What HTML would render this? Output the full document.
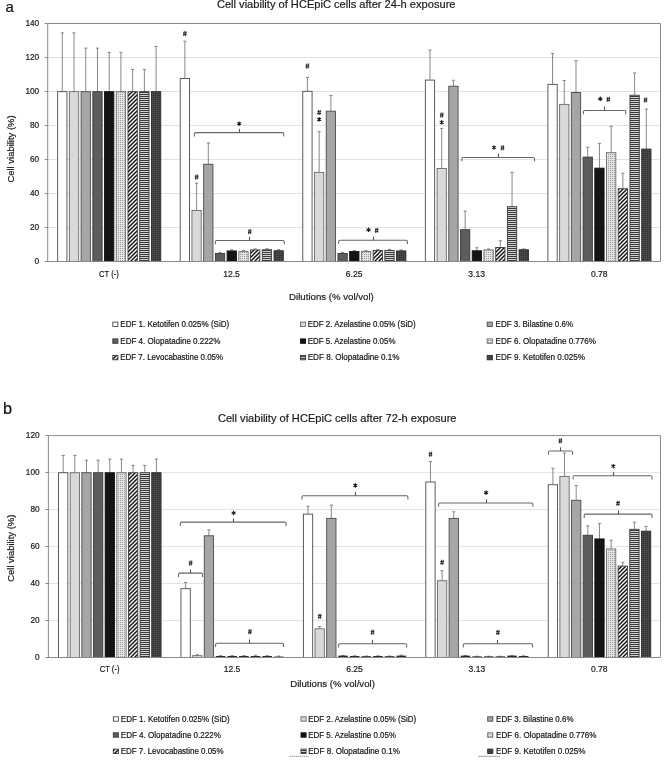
<!DOCTYPE html>
<html><head><meta charset="utf-8"><title>Cell viability of HCEpiC cells</title>
<style>
html,body{margin:0;padding:0;background:#fff;}
body{width:669px;height:760px;overflow:hidden;}
svg{display:block;font-family:"Liberation Sans", sans-serif;will-change:transform;}
text{stroke:#1a1a1a;stroke-width:0.2px;paint-order:stroke;}
</style></head><body>
<svg width="669" height="760" viewBox="0 0 669 760">
<defs>
<pattern id="pdots" width="2" height="2" patternUnits="userSpaceOnUse"><rect width="2" height="2" fill="#e4e4e4"/><rect x="0" y="0" width="1" height="1" fill="#9a9a9a"/></pattern>
<pattern id="pdiag" width="4" height="4" patternUnits="userSpaceOnUse"><rect width="4" height="4" fill="#ffffff"/><path d="M-1,5 L5,-1 M-1,1 L1,-1 M3,5 L5,3" stroke="#151515" stroke-width="1.5"/></pattern>
<pattern id="phor" width="2" height="2" patternUnits="userSpaceOnUse"><rect width="2" height="2" fill="#e4e4e4"/><rect x="0" y="0" width="2" height="1.1" fill="#3a3a3a"/></pattern>
<pattern id="pdark" width="2" height="2" patternUnits="userSpaceOnUse"><rect width="2" height="2" fill="#3a3a3a"/><rect x="0" y="0" width="1" height="1" fill="#575757"/></pattern>
</defs>
<line x1="47.7" y1="227.5" x2="660.5" y2="227.5" stroke="#dfdfdf" stroke-width="0.9"/>
<line x1="47.7" y1="193.5" x2="660.5" y2="193.5" stroke="#dfdfdf" stroke-width="0.9"/>
<line x1="47.7" y1="159.5" x2="660.5" y2="159.5" stroke="#dfdfdf" stroke-width="0.9"/>
<line x1="47.7" y1="125.5" x2="660.5" y2="125.5" stroke="#dfdfdf" stroke-width="0.9"/>
<line x1="47.7" y1="91.5" x2="660.5" y2="91.5" stroke="#dfdfdf" stroke-width="0.9"/>
<line x1="47.7" y1="57.5" x2="660.5" y2="57.5" stroke="#dfdfdf" stroke-width="0.9"/>
<polyline points="47.7,23.5 660.5,23.5 660.5,261.5" fill="none" stroke="#8a8a8a" stroke-width="1"/>
<line x1="62.3" y1="91.5" x2="62.3" y2="32.85" stroke="#7a7a7a" stroke-width="0.9"/>
<line x1="60.7" y1="32.85" x2="63.9" y2="32.85" stroke="#7a7a7a" stroke-width="0.9"/>
<rect x="57.65" y="91.65" width="9.3" height="169.85" fill="#ffffff" stroke="#4a4a4a" stroke-width="0.9"/>
<line x1="74.02" y1="91.5" x2="74.02" y2="32.85" stroke="#7a7a7a" stroke-width="0.9"/>
<line x1="72.42" y1="32.85" x2="75.62" y2="32.85" stroke="#7a7a7a" stroke-width="0.9"/>
<rect x="69.38" y="91.65" width="9.3" height="169.85" fill="#d9d9d9" stroke="#6a6a6a" stroke-width="0.9"/>
<line x1="85.75" y1="91.5" x2="85.75" y2="48.15" stroke="#7a7a7a" stroke-width="0.9"/>
<line x1="84.15" y1="48.15" x2="87.35" y2="48.15" stroke="#7a7a7a" stroke-width="0.9"/>
<rect x="81.1" y="91.65" width="9.3" height="169.85" fill="#a6a6a6" stroke="#4a4a4a" stroke-width="0.9"/>
<line x1="97.47" y1="91.5" x2="97.47" y2="48.15" stroke="#7a7a7a" stroke-width="0.9"/>
<line x1="95.88" y1="48.15" x2="99.07" y2="48.15" stroke="#7a7a7a" stroke-width="0.9"/>
<rect x="92.83" y="91.65" width="9.3" height="169.85" fill="#5d5d5d" stroke="#3a3a3a" stroke-width="0.9"/>
<line x1="109.2" y1="91.5" x2="109.2" y2="52.4" stroke="#7a7a7a" stroke-width="0.9"/>
<line x1="107.6" y1="52.4" x2="110.8" y2="52.4" stroke="#7a7a7a" stroke-width="0.9"/>
<rect x="104.55" y="91.65" width="9.3" height="169.85" fill="#141414" stroke="#111111" stroke-width="0.9"/>
<line x1="120.92" y1="91.5" x2="120.92" y2="52.4" stroke="#7a7a7a" stroke-width="0.9"/>
<line x1="119.33" y1="52.4" x2="122.52" y2="52.4" stroke="#7a7a7a" stroke-width="0.9"/>
<rect x="116.28" y="91.65" width="9.3" height="169.85" fill="url(#pdots)" stroke="#6a6a6a" stroke-width="0.9"/>
<line x1="132.65" y1="91.5" x2="132.65" y2="69.4" stroke="#7a7a7a" stroke-width="0.9"/>
<line x1="131.05" y1="69.4" x2="134.25" y2="69.4" stroke="#7a7a7a" stroke-width="0.9"/>
<rect x="128" y="91.65" width="9.3" height="169.85" fill="url(#pdiag)" stroke="#3a3a3a" stroke-width="0.9"/>
<line x1="144.38" y1="91.5" x2="144.38" y2="69.4" stroke="#7a7a7a" stroke-width="0.9"/>
<line x1="142.78" y1="69.4" x2="145.97" y2="69.4" stroke="#7a7a7a" stroke-width="0.9"/>
<rect x="139.72" y="91.65" width="9.3" height="169.85" fill="url(#phor)" stroke="#3a3a3a" stroke-width="0.9"/>
<line x1="156.1" y1="91.5" x2="156.1" y2="46.45" stroke="#7a7a7a" stroke-width="0.9"/>
<line x1="154.5" y1="46.45" x2="157.7" y2="46.45" stroke="#7a7a7a" stroke-width="0.9"/>
<rect x="151.45" y="91.65" width="9.3" height="169.85" fill="url(#pdark)" stroke="#2a2a2a" stroke-width="0.9"/>
<line x1="184.86" y1="78.41" x2="184.86" y2="41.18" stroke="#7a7a7a" stroke-width="0.9"/>
<line x1="183.26" y1="41.18" x2="186.46" y2="41.18" stroke="#7a7a7a" stroke-width="0.9"/>
<rect x="180.21" y="78.56" width="9.3" height="182.94" fill="#ffffff" stroke="#4a4a4a" stroke-width="0.9"/>
<line x1="196.58" y1="210.33" x2="196.58" y2="183.13" stroke="#7a7a7a" stroke-width="0.9"/>
<line x1="194.98" y1="183.13" x2="198.18" y2="183.13" stroke="#7a7a7a" stroke-width="0.9"/>
<rect x="191.93" y="210.48" width="9.3" height="51.02" fill="#d9d9d9" stroke="#6a6a6a" stroke-width="0.9"/>
<line x1="208.31" y1="164.09" x2="208.31" y2="143.01" stroke="#7a7a7a" stroke-width="0.9"/>
<line x1="206.71" y1="143.01" x2="209.91" y2="143.01" stroke="#7a7a7a" stroke-width="0.9"/>
<rect x="203.66" y="164.24" width="9.3" height="97.26" fill="#a6a6a6" stroke="#4a4a4a" stroke-width="0.9"/>
<line x1="220.03" y1="253.34" x2="220.03" y2="252.32" stroke="#7a7a7a" stroke-width="0.9"/>
<line x1="218.44" y1="252.32" x2="221.63" y2="252.32" stroke="#7a7a7a" stroke-width="0.9"/>
<rect x="215.38" y="253.49" width="9.3" height="8.01" fill="#5d5d5d" stroke="#3a3a3a" stroke-width="0.9"/>
<line x1="231.76" y1="250.79" x2="231.76" y2="249.77" stroke="#7a7a7a" stroke-width="0.9"/>
<line x1="230.16" y1="249.77" x2="233.36" y2="249.77" stroke="#7a7a7a" stroke-width="0.9"/>
<rect x="227.11" y="250.94" width="9.3" height="10.56" fill="#141414" stroke="#111111" stroke-width="0.9"/>
<line x1="243.48" y1="251.47" x2="243.48" y2="250.45" stroke="#7a7a7a" stroke-width="0.9"/>
<line x1="241.88" y1="250.45" x2="245.08" y2="250.45" stroke="#7a7a7a" stroke-width="0.9"/>
<rect x="238.83" y="251.62" width="9.3" height="9.88" fill="url(#pdots)" stroke="#6a6a6a" stroke-width="0.9"/>
<line x1="255.21" y1="249.77" x2="255.21" y2="248.92" stroke="#7a7a7a" stroke-width="0.9"/>
<line x1="253.61" y1="248.92" x2="256.81" y2="248.92" stroke="#7a7a7a" stroke-width="0.9"/>
<rect x="250.56" y="249.92" width="9.3" height="11.58" fill="url(#pdiag)" stroke="#3a3a3a" stroke-width="0.9"/>
<line x1="266.94" y1="249.6" x2="266.94" y2="248.75" stroke="#7a7a7a" stroke-width="0.9"/>
<line x1="265.33" y1="248.75" x2="268.54" y2="248.75" stroke="#7a7a7a" stroke-width="0.9"/>
<rect x="262.28" y="249.75" width="9.3" height="11.75" fill="url(#phor)" stroke="#3a3a3a" stroke-width="0.9"/>
<line x1="278.66" y1="250.62" x2="278.66" y2="249.6" stroke="#7a7a7a" stroke-width="0.9"/>
<line x1="277.06" y1="249.6" x2="280.26" y2="249.6" stroke="#7a7a7a" stroke-width="0.9"/>
<rect x="274.01" y="250.77" width="9.3" height="10.73" fill="url(#pdark)" stroke="#2a2a2a" stroke-width="0.9"/>
<line x1="307.42" y1="91.16" x2="307.42" y2="77.39" stroke="#7a7a7a" stroke-width="0.9"/>
<line x1="305.82" y1="77.39" x2="309.02" y2="77.39" stroke="#7a7a7a" stroke-width="0.9"/>
<rect x="302.77" y="91.31" width="9.3" height="170.19" fill="#ffffff" stroke="#4a4a4a" stroke-width="0.9"/>
<line x1="319.15" y1="172.25" x2="319.15" y2="131.62" stroke="#7a7a7a" stroke-width="0.9"/>
<line x1="317.55" y1="131.62" x2="320.75" y2="131.62" stroke="#7a7a7a" stroke-width="0.9"/>
<rect x="314.5" y="172.4" width="9.3" height="89.1" fill="#d9d9d9" stroke="#6a6a6a" stroke-width="0.9"/>
<line x1="330.87" y1="111.05" x2="330.87" y2="95.41" stroke="#7a7a7a" stroke-width="0.9"/>
<line x1="329.27" y1="95.41" x2="332.47" y2="95.41" stroke="#7a7a7a" stroke-width="0.9"/>
<rect x="326.22" y="111.2" width="9.3" height="150.3" fill="#a6a6a6" stroke="#4a4a4a" stroke-width="0.9"/>
<line x1="342.6" y1="253.34" x2="342.6" y2="252.49" stroke="#7a7a7a" stroke-width="0.9"/>
<line x1="341" y1="252.49" x2="344.2" y2="252.49" stroke="#7a7a7a" stroke-width="0.9"/>
<rect x="337.94" y="253.49" width="9.3" height="8.01" fill="#5d5d5d" stroke="#3a3a3a" stroke-width="0.9"/>
<line x1="354.32" y1="251.3" x2="354.32" y2="250.45" stroke="#7a7a7a" stroke-width="0.9"/>
<line x1="352.72" y1="250.45" x2="355.92" y2="250.45" stroke="#7a7a7a" stroke-width="0.9"/>
<rect x="349.67" y="251.45" width="9.3" height="10.05" fill="#141414" stroke="#111111" stroke-width="0.9"/>
<line x1="366.05" y1="251.3" x2="366.05" y2="250.45" stroke="#7a7a7a" stroke-width="0.9"/>
<line x1="364.44" y1="250.45" x2="367.65" y2="250.45" stroke="#7a7a7a" stroke-width="0.9"/>
<rect x="361.39" y="251.45" width="9.3" height="10.05" fill="url(#pdots)" stroke="#6a6a6a" stroke-width="0.9"/>
<line x1="377.77" y1="250.28" x2="377.77" y2="249.43" stroke="#7a7a7a" stroke-width="0.9"/>
<line x1="376.17" y1="249.43" x2="379.37" y2="249.43" stroke="#7a7a7a" stroke-width="0.9"/>
<rect x="373.12" y="250.43" width="9.3" height="11.07" fill="url(#pdiag)" stroke="#3a3a3a" stroke-width="0.9"/>
<line x1="389.5" y1="250.28" x2="389.5" y2="249.43" stroke="#7a7a7a" stroke-width="0.9"/>
<line x1="387.89" y1="249.43" x2="391.1" y2="249.43" stroke="#7a7a7a" stroke-width="0.9"/>
<rect x="384.84" y="250.43" width="9.3" height="11.07" fill="url(#phor)" stroke="#3a3a3a" stroke-width="0.9"/>
<line x1="401.22" y1="250.79" x2="401.22" y2="249.94" stroke="#7a7a7a" stroke-width="0.9"/>
<line x1="399.62" y1="249.94" x2="402.82" y2="249.94" stroke="#7a7a7a" stroke-width="0.9"/>
<rect x="396.57" y="250.94" width="9.3" height="10.56" fill="url(#pdark)" stroke="#2a2a2a" stroke-width="0.9"/>
<line x1="429.98" y1="79.94" x2="429.98" y2="50.02" stroke="#7a7a7a" stroke-width="0.9"/>
<line x1="428.38" y1="50.02" x2="431.58" y2="50.02" stroke="#7a7a7a" stroke-width="0.9"/>
<rect x="425.33" y="80.09" width="9.3" height="181.41" fill="#ffffff" stroke="#4a4a4a" stroke-width="0.9"/>
<line x1="441.71" y1="168.34" x2="441.71" y2="128.39" stroke="#7a7a7a" stroke-width="0.9"/>
<line x1="440.11" y1="128.39" x2="443.31" y2="128.39" stroke="#7a7a7a" stroke-width="0.9"/>
<rect x="437.06" y="168.49" width="9.3" height="93.01" fill="#d9d9d9" stroke="#6a6a6a" stroke-width="0.9"/>
<line x1="453.43" y1="86.06" x2="453.43" y2="80.28" stroke="#7a7a7a" stroke-width="0.9"/>
<line x1="451.83" y1="80.28" x2="455.03" y2="80.28" stroke="#7a7a7a" stroke-width="0.9"/>
<rect x="448.78" y="86.21" width="9.3" height="175.29" fill="#a6a6a6" stroke="#4a4a4a" stroke-width="0.9"/>
<line x1="465.16" y1="229.54" x2="465.16" y2="211.01" stroke="#7a7a7a" stroke-width="0.9"/>
<line x1="463.56" y1="211.01" x2="466.76" y2="211.01" stroke="#7a7a7a" stroke-width="0.9"/>
<rect x="460.5" y="229.69" width="9.3" height="31.81" fill="#5d5d5d" stroke="#3a3a3a" stroke-width="0.9"/>
<line x1="476.88" y1="250.62" x2="476.88" y2="247.73" stroke="#7a7a7a" stroke-width="0.9"/>
<line x1="475.28" y1="247.73" x2="478.48" y2="247.73" stroke="#7a7a7a" stroke-width="0.9"/>
<rect x="472.23" y="250.77" width="9.3" height="10.73" fill="#141414" stroke="#111111" stroke-width="0.9"/>
<line x1="488.61" y1="249.77" x2="488.61" y2="248.92" stroke="#7a7a7a" stroke-width="0.9"/>
<line x1="487" y1="248.92" x2="490.21" y2="248.92" stroke="#7a7a7a" stroke-width="0.9"/>
<rect x="483.95" y="249.92" width="9.3" height="11.58" fill="url(#pdots)" stroke="#6a6a6a" stroke-width="0.9"/>
<line x1="500.33" y1="247.39" x2="500.33" y2="240.76" stroke="#7a7a7a" stroke-width="0.9"/>
<line x1="498.73" y1="240.76" x2="501.93" y2="240.76" stroke="#7a7a7a" stroke-width="0.9"/>
<rect x="495.68" y="247.54" width="9.3" height="13.96" fill="url(#pdiag)" stroke="#3a3a3a" stroke-width="0.9"/>
<line x1="512.05" y1="206.59" x2="512.05" y2="172.25" stroke="#7a7a7a" stroke-width="0.9"/>
<line x1="510.45" y1="172.25" x2="513.65" y2="172.25" stroke="#7a7a7a" stroke-width="0.9"/>
<rect x="507.4" y="206.74" width="9.3" height="54.76" fill="url(#phor)" stroke="#3a3a3a" stroke-width="0.9"/>
<line x1="523.78" y1="249.6" x2="523.78" y2="248.92" stroke="#7a7a7a" stroke-width="0.9"/>
<line x1="522.18" y1="248.92" x2="525.38" y2="248.92" stroke="#7a7a7a" stroke-width="0.9"/>
<rect x="519.13" y="249.75" width="9.3" height="11.75" fill="url(#pdark)" stroke="#2a2a2a" stroke-width="0.9"/>
<line x1="552.54" y1="84.19" x2="552.54" y2="53.42" stroke="#7a7a7a" stroke-width="0.9"/>
<line x1="550.94" y1="53.42" x2="554.14" y2="53.42" stroke="#7a7a7a" stroke-width="0.9"/>
<rect x="547.89" y="84.34" width="9.3" height="177.16" fill="#ffffff" stroke="#4a4a4a" stroke-width="0.9"/>
<line x1="564.27" y1="104.25" x2="564.27" y2="80.45" stroke="#7a7a7a" stroke-width="0.9"/>
<line x1="562.67" y1="80.45" x2="565.87" y2="80.45" stroke="#7a7a7a" stroke-width="0.9"/>
<rect x="559.62" y="104.4" width="9.3" height="157.1" fill="#d9d9d9" stroke="#6a6a6a" stroke-width="0.9"/>
<line x1="575.99" y1="92.35" x2="575.99" y2="60.56" stroke="#7a7a7a" stroke-width="0.9"/>
<line x1="574.39" y1="60.56" x2="577.59" y2="60.56" stroke="#7a7a7a" stroke-width="0.9"/>
<rect x="571.34" y="92.5" width="9.3" height="169" fill="#a6a6a6" stroke="#4a4a4a" stroke-width="0.9"/>
<line x1="587.72" y1="156.95" x2="587.72" y2="147.26" stroke="#7a7a7a" stroke-width="0.9"/>
<line x1="586.12" y1="147.26" x2="589.32" y2="147.26" stroke="#7a7a7a" stroke-width="0.9"/>
<rect x="583.07" y="157.1" width="9.3" height="104.4" fill="#5d5d5d" stroke="#3a3a3a" stroke-width="0.9"/>
<line x1="599.44" y1="168" x2="599.44" y2="143.35" stroke="#7a7a7a" stroke-width="0.9"/>
<line x1="597.84" y1="143.35" x2="601.04" y2="143.35" stroke="#7a7a7a" stroke-width="0.9"/>
<rect x="594.79" y="168.15" width="9.3" height="93.35" fill="#141414" stroke="#111111" stroke-width="0.9"/>
<line x1="611.17" y1="152.53" x2="611.17" y2="126.35" stroke="#7a7a7a" stroke-width="0.9"/>
<line x1="609.57" y1="126.35" x2="612.77" y2="126.35" stroke="#7a7a7a" stroke-width="0.9"/>
<rect x="606.52" y="152.68" width="9.3" height="108.82" fill="url(#pdots)" stroke="#6a6a6a" stroke-width="0.9"/>
<line x1="622.89" y1="188.57" x2="622.89" y2="173.27" stroke="#7a7a7a" stroke-width="0.9"/>
<line x1="621.29" y1="173.27" x2="624.49" y2="173.27" stroke="#7a7a7a" stroke-width="0.9"/>
<rect x="618.24" y="188.72" width="9.3" height="72.78" fill="url(#pdiag)" stroke="#3a3a3a" stroke-width="0.9"/>
<line x1="634.62" y1="95.07" x2="634.62" y2="72.97" stroke="#7a7a7a" stroke-width="0.9"/>
<line x1="633.02" y1="72.97" x2="636.22" y2="72.97" stroke="#7a7a7a" stroke-width="0.9"/>
<rect x="629.97" y="95.22" width="9.3" height="166.28" fill="url(#phor)" stroke="#3a3a3a" stroke-width="0.9"/>
<line x1="646.34" y1="148.96" x2="646.34" y2="109.18" stroke="#7a7a7a" stroke-width="0.9"/>
<line x1="644.74" y1="109.18" x2="647.94" y2="109.18" stroke="#7a7a7a" stroke-width="0.9"/>
<rect x="641.69" y="149.11" width="9.3" height="112.39" fill="url(#pdark)" stroke="#2a2a2a" stroke-width="0.9"/>
<line x1="47.7" y1="23.5" x2="47.7" y2="261.5" stroke="#8a8a8a" stroke-width="1"/>
<line x1="47.2" y1="261.5" x2="660.5" y2="261.5" stroke="#8a8a8a" stroke-width="1"/>
<line x1="44.7" y1="261.5" x2="47.7" y2="261.5" stroke="#8a8a8a" stroke-width="1"/>
<text x="39.2" y="263.9" text-anchor="end" font-size="8.25" fill="#1a1a1a">0</text>
<line x1="44.7" y1="227.5" x2="47.7" y2="227.5" stroke="#8a8a8a" stroke-width="1"/>
<text x="39.2" y="229.9" text-anchor="end" font-size="8.25" fill="#1a1a1a">20</text>
<line x1="44.7" y1="193.5" x2="47.7" y2="193.5" stroke="#8a8a8a" stroke-width="1"/>
<text x="39.2" y="195.9" text-anchor="end" font-size="8.25" fill="#1a1a1a">40</text>
<line x1="44.7" y1="159.5" x2="47.7" y2="159.5" stroke="#8a8a8a" stroke-width="1"/>
<text x="39.2" y="161.9" text-anchor="end" font-size="8.25" fill="#1a1a1a">60</text>
<line x1="44.7" y1="125.5" x2="47.7" y2="125.5" stroke="#8a8a8a" stroke-width="1"/>
<text x="39.2" y="127.9" text-anchor="end" font-size="8.25" fill="#1a1a1a">80</text>
<line x1="44.7" y1="91.5" x2="47.7" y2="91.5" stroke="#8a8a8a" stroke-width="1"/>
<text x="39.2" y="93.9" text-anchor="end" font-size="8.25" fill="#1a1a1a">100</text>
<line x1="44.7" y1="57.5" x2="47.7" y2="57.5" stroke="#8a8a8a" stroke-width="1"/>
<text x="39.2" y="59.9" text-anchor="end" font-size="8.25" fill="#1a1a1a">120</text>
<line x1="44.7" y1="23.5" x2="47.7" y2="23.5" stroke="#8a8a8a" stroke-width="1"/>
<text x="39.2" y="25.9" text-anchor="end" font-size="8.25" fill="#1a1a1a">140</text>
<line x1="48.4" y1="620.52" x2="660.5" y2="620.52" stroke="#dfdfdf" stroke-width="0.9"/>
<line x1="48.4" y1="583.53" x2="660.5" y2="583.53" stroke="#dfdfdf" stroke-width="0.9"/>
<line x1="48.4" y1="546.55" x2="660.5" y2="546.55" stroke="#dfdfdf" stroke-width="0.9"/>
<line x1="48.4" y1="509.57" x2="660.5" y2="509.57" stroke="#dfdfdf" stroke-width="0.9"/>
<line x1="48.4" y1="472.58" x2="660.5" y2="472.58" stroke="#dfdfdf" stroke-width="0.9"/>
<polyline points="48.4,435.6 660.5,435.6 660.5,657.5" fill="none" stroke="#8a8a8a" stroke-width="1"/>
<line x1="63.2" y1="472.58" x2="63.2" y2="455.39" stroke="#7a7a7a" stroke-width="0.9"/>
<line x1="61.6" y1="455.39" x2="64.8" y2="455.39" stroke="#7a7a7a" stroke-width="0.9"/>
<rect x="58.55" y="472.73" width="9.3" height="184.77" fill="#ffffff" stroke="#4a4a4a" stroke-width="0.9"/>
<line x1="74.85" y1="472.58" x2="74.85" y2="455.39" stroke="#7a7a7a" stroke-width="0.9"/>
<line x1="73.25" y1="455.39" x2="76.45" y2="455.39" stroke="#7a7a7a" stroke-width="0.9"/>
<rect x="70.2" y="472.73" width="9.3" height="184.77" fill="#d9d9d9" stroke="#6a6a6a" stroke-width="0.9"/>
<line x1="86.5" y1="472.58" x2="86.5" y2="460.19" stroke="#7a7a7a" stroke-width="0.9"/>
<line x1="84.9" y1="460.19" x2="88.1" y2="460.19" stroke="#7a7a7a" stroke-width="0.9"/>
<rect x="81.85" y="472.73" width="9.3" height="184.77" fill="#a6a6a6" stroke="#4a4a4a" stroke-width="0.9"/>
<line x1="98.15" y1="472.58" x2="98.15" y2="460.19" stroke="#7a7a7a" stroke-width="0.9"/>
<line x1="96.55" y1="460.19" x2="99.75" y2="460.19" stroke="#7a7a7a" stroke-width="0.9"/>
<rect x="93.5" y="472.73" width="9.3" height="184.77" fill="#5d5d5d" stroke="#3a3a3a" stroke-width="0.9"/>
<line x1="109.8" y1="472.58" x2="109.8" y2="459.08" stroke="#7a7a7a" stroke-width="0.9"/>
<line x1="108.2" y1="459.08" x2="111.4" y2="459.08" stroke="#7a7a7a" stroke-width="0.9"/>
<rect x="105.15" y="472.73" width="9.3" height="184.77" fill="#141414" stroke="#111111" stroke-width="0.9"/>
<line x1="121.45" y1="472.58" x2="121.45" y2="459.08" stroke="#7a7a7a" stroke-width="0.9"/>
<line x1="119.85" y1="459.08" x2="123.05" y2="459.08" stroke="#7a7a7a" stroke-width="0.9"/>
<rect x="116.8" y="472.73" width="9.3" height="184.77" fill="url(#pdots)" stroke="#6a6a6a" stroke-width="0.9"/>
<line x1="133.1" y1="472.58" x2="133.1" y2="465.37" stroke="#7a7a7a" stroke-width="0.9"/>
<line x1="131.5" y1="465.37" x2="134.7" y2="465.37" stroke="#7a7a7a" stroke-width="0.9"/>
<rect x="128.45" y="472.73" width="9.3" height="184.77" fill="url(#pdiag)" stroke="#3a3a3a" stroke-width="0.9"/>
<line x1="144.75" y1="472.58" x2="144.75" y2="465.37" stroke="#7a7a7a" stroke-width="0.9"/>
<line x1="143.15" y1="465.37" x2="146.35" y2="465.37" stroke="#7a7a7a" stroke-width="0.9"/>
<rect x="140.1" y="472.73" width="9.3" height="184.77" fill="url(#phor)" stroke="#3a3a3a" stroke-width="0.9"/>
<line x1="156.4" y1="472.58" x2="156.4" y2="459.08" stroke="#7a7a7a" stroke-width="0.9"/>
<line x1="154.8" y1="459.08" x2="158" y2="459.08" stroke="#7a7a7a" stroke-width="0.9"/>
<rect x="151.75" y="472.73" width="9.3" height="184.77" fill="url(#pdark)" stroke="#2a2a2a" stroke-width="0.9"/>
<line x1="185.62" y1="588.53" x2="185.62" y2="582.42" stroke="#7a7a7a" stroke-width="0.9"/>
<line x1="184.02" y1="582.42" x2="187.22" y2="582.42" stroke="#7a7a7a" stroke-width="0.9"/>
<rect x="180.97" y="588.68" width="9.3" height="68.82" fill="#ffffff" stroke="#4a4a4a" stroke-width="0.9"/>
<line x1="197.27" y1="655.47" x2="197.27" y2="654.73" stroke="#7a7a7a" stroke-width="0.9"/>
<line x1="195.67" y1="654.73" x2="198.87" y2="654.73" stroke="#7a7a7a" stroke-width="0.9"/>
<rect x="192.62" y="655.62" width="9.3" height="1.88" fill="#d9d9d9" stroke="#6a6a6a" stroke-width="0.9"/>
<line x1="208.92" y1="535.64" x2="208.92" y2="529.91" stroke="#7a7a7a" stroke-width="0.9"/>
<line x1="207.32" y1="529.91" x2="210.52" y2="529.91" stroke="#7a7a7a" stroke-width="0.9"/>
<rect x="204.27" y="535.79" width="9.3" height="121.71" fill="#a6a6a6" stroke="#4a4a4a" stroke-width="0.9"/>
<line x1="220.57" y1="656.39" x2="220.57" y2="655.65" stroke="#7a7a7a" stroke-width="0.9"/>
<line x1="218.97" y1="655.65" x2="222.17" y2="655.65" stroke="#7a7a7a" stroke-width="0.9"/>
<rect x="215.77" y="655.99" width="9.6" height="1.51" fill="#2a2a2a"/>
<line x1="232.22" y1="656.39" x2="232.22" y2="655.65" stroke="#7a7a7a" stroke-width="0.9"/>
<line x1="230.62" y1="655.65" x2="233.82" y2="655.65" stroke="#7a7a7a" stroke-width="0.9"/>
<rect x="227.42" y="655.99" width="9.6" height="1.51" fill="#2a2a2a"/>
<line x1="243.87" y1="656.39" x2="243.87" y2="655.65" stroke="#7a7a7a" stroke-width="0.9"/>
<line x1="242.27" y1="655.65" x2="245.47" y2="655.65" stroke="#7a7a7a" stroke-width="0.9"/>
<rect x="239.07" y="655.99" width="9.6" height="1.51" fill="#2a2a2a"/>
<line x1="255.52" y1="656.39" x2="255.52" y2="655.28" stroke="#7a7a7a" stroke-width="0.9"/>
<line x1="253.92" y1="655.28" x2="257.12" y2="655.28" stroke="#7a7a7a" stroke-width="0.9"/>
<rect x="250.72" y="655.99" width="9.6" height="1.51" fill="#2a2a2a"/>
<line x1="267.17" y1="656.39" x2="267.17" y2="655.65" stroke="#7a7a7a" stroke-width="0.9"/>
<line x1="265.57" y1="655.65" x2="268.77" y2="655.65" stroke="#7a7a7a" stroke-width="0.9"/>
<rect x="262.37" y="655.99" width="9.6" height="1.51" fill="#2a2a2a"/>
<line x1="278.82" y1="656.95" x2="278.82" y2="656.02" stroke="#7a7a7a" stroke-width="0.9"/>
<line x1="277.22" y1="656.02" x2="280.42" y2="656.02" stroke="#7a7a7a" stroke-width="0.9"/>
<rect x="274.02" y="656.55" width="9.6" height="0.95" fill="#2a2a2a"/>
<line x1="308.04" y1="514" x2="308.04" y2="506.24" stroke="#7a7a7a" stroke-width="0.9"/>
<line x1="306.44" y1="506.24" x2="309.64" y2="506.24" stroke="#7a7a7a" stroke-width="0.9"/>
<rect x="303.39" y="514.15" width="9.3" height="143.35" fill="#ffffff" stroke="#4a4a4a" stroke-width="0.9"/>
<line x1="319.69" y1="628.65" x2="319.69" y2="626.62" stroke="#7a7a7a" stroke-width="0.9"/>
<line x1="318.09" y1="626.62" x2="321.29" y2="626.62" stroke="#7a7a7a" stroke-width="0.9"/>
<rect x="315.04" y="628.8" width="9.3" height="28.7" fill="#d9d9d9" stroke="#6a6a6a" stroke-width="0.9"/>
<line x1="331.34" y1="518.26" x2="331.34" y2="505.13" stroke="#7a7a7a" stroke-width="0.9"/>
<line x1="329.74" y1="505.13" x2="332.94" y2="505.13" stroke="#7a7a7a" stroke-width="0.9"/>
<rect x="326.69" y="518.41" width="9.3" height="139.09" fill="#a6a6a6" stroke="#4a4a4a" stroke-width="0.9"/>
<line x1="342.99" y1="656.02" x2="342.99" y2="655.47" stroke="#7a7a7a" stroke-width="0.9"/>
<line x1="341.39" y1="655.47" x2="344.59" y2="655.47" stroke="#7a7a7a" stroke-width="0.9"/>
<rect x="338.19" y="655.62" width="9.6" height="1.88" fill="#2a2a2a"/>
<line x1="354.64" y1="656.39" x2="354.64" y2="655.84" stroke="#7a7a7a" stroke-width="0.9"/>
<line x1="353.04" y1="655.84" x2="356.24" y2="655.84" stroke="#7a7a7a" stroke-width="0.9"/>
<rect x="349.84" y="655.99" width="9.6" height="1.51" fill="#2a2a2a"/>
<line x1="366.29" y1="656.58" x2="366.29" y2="656.02" stroke="#7a7a7a" stroke-width="0.9"/>
<line x1="364.69" y1="656.02" x2="367.89" y2="656.02" stroke="#7a7a7a" stroke-width="0.9"/>
<rect x="361.49" y="656.18" width="9.6" height="1.32" fill="#2a2a2a"/>
<line x1="377.94" y1="656.39" x2="377.94" y2="655.84" stroke="#7a7a7a" stroke-width="0.9"/>
<line x1="376.34" y1="655.84" x2="379.54" y2="655.84" stroke="#7a7a7a" stroke-width="0.9"/>
<rect x="373.14" y="655.99" width="9.6" height="1.51" fill="#2a2a2a"/>
<line x1="389.59" y1="656.58" x2="389.59" y2="656.02" stroke="#7a7a7a" stroke-width="0.9"/>
<line x1="387.99" y1="656.02" x2="391.19" y2="656.02" stroke="#7a7a7a" stroke-width="0.9"/>
<rect x="384.79" y="656.18" width="9.6" height="1.32" fill="#2a2a2a"/>
<line x1="401.24" y1="656.02" x2="401.24" y2="655.1" stroke="#7a7a7a" stroke-width="0.9"/>
<line x1="399.64" y1="655.1" x2="402.84" y2="655.1" stroke="#7a7a7a" stroke-width="0.9"/>
<rect x="396.44" y="655.62" width="9.6" height="1.88" fill="#2a2a2a"/>
<line x1="430.46" y1="481.83" x2="430.46" y2="461.49" stroke="#7a7a7a" stroke-width="0.9"/>
<line x1="428.86" y1="461.49" x2="432.06" y2="461.49" stroke="#7a7a7a" stroke-width="0.9"/>
<rect x="425.81" y="481.98" width="9.3" height="175.52" fill="#ffffff" stroke="#4a4a4a" stroke-width="0.9"/>
<line x1="442.11" y1="580.57" x2="442.11" y2="570.77" stroke="#7a7a7a" stroke-width="0.9"/>
<line x1="440.51" y1="570.77" x2="443.71" y2="570.77" stroke="#7a7a7a" stroke-width="0.9"/>
<rect x="437.46" y="580.72" width="9.3" height="76.78" fill="#d9d9d9" stroke="#6a6a6a" stroke-width="0.9"/>
<line x1="453.76" y1="518.26" x2="453.76" y2="511.79" stroke="#7a7a7a" stroke-width="0.9"/>
<line x1="452.16" y1="511.79" x2="455.36" y2="511.79" stroke="#7a7a7a" stroke-width="0.9"/>
<rect x="449.11" y="518.41" width="9.3" height="139.09" fill="#a6a6a6" stroke="#4a4a4a" stroke-width="0.9"/>
<line x1="465.41" y1="656.02" x2="465.41" y2="655.47" stroke="#7a7a7a" stroke-width="0.9"/>
<line x1="463.81" y1="655.47" x2="467.01" y2="655.47" stroke="#7a7a7a" stroke-width="0.9"/>
<rect x="460.61" y="655.62" width="9.6" height="1.88" fill="#2a2a2a"/>
<line x1="477.06" y1="656.76" x2="477.06" y2="656.21" stroke="#7a7a7a" stroke-width="0.9"/>
<line x1="475.46" y1="656.21" x2="478.66" y2="656.21" stroke="#7a7a7a" stroke-width="0.9"/>
<rect x="472.26" y="656.36" width="9.6" height="1.14" fill="#2a2a2a"/>
<line x1="488.71" y1="656.76" x2="488.71" y2="656.21" stroke="#7a7a7a" stroke-width="0.9"/>
<line x1="487.11" y1="656.21" x2="490.31" y2="656.21" stroke="#7a7a7a" stroke-width="0.9"/>
<rect x="483.91" y="656.36" width="9.6" height="1.14" fill="#2a2a2a"/>
<line x1="500.36" y1="656.76" x2="500.36" y2="656.21" stroke="#7a7a7a" stroke-width="0.9"/>
<line x1="498.76" y1="656.21" x2="501.96" y2="656.21" stroke="#7a7a7a" stroke-width="0.9"/>
<rect x="495.56" y="656.36" width="9.6" height="1.14" fill="#2a2a2a"/>
<line x1="512.01" y1="656.02" x2="512.01" y2="655.47" stroke="#7a7a7a" stroke-width="0.9"/>
<line x1="510.41" y1="655.47" x2="513.61" y2="655.47" stroke="#7a7a7a" stroke-width="0.9"/>
<rect x="507.21" y="655.62" width="9.6" height="1.88" fill="#2a2a2a"/>
<line x1="523.66" y1="656.39" x2="523.66" y2="655.84" stroke="#7a7a7a" stroke-width="0.9"/>
<line x1="522.06" y1="655.84" x2="525.26" y2="655.84" stroke="#7a7a7a" stroke-width="0.9"/>
<rect x="518.86" y="655.99" width="9.6" height="1.51" fill="#2a2a2a"/>
<line x1="552.88" y1="484.6" x2="552.88" y2="468.15" stroke="#7a7a7a" stroke-width="0.9"/>
<line x1="551.28" y1="468.15" x2="554.48" y2="468.15" stroke="#7a7a7a" stroke-width="0.9"/>
<rect x="548.23" y="484.75" width="9.3" height="172.75" fill="#ffffff" stroke="#4a4a4a" stroke-width="0.9"/>
<line x1="564.53" y1="476.28" x2="564.53" y2="452.98" stroke="#7a7a7a" stroke-width="0.9"/>
<line x1="562.93" y1="452.98" x2="566.13" y2="452.98" stroke="#7a7a7a" stroke-width="0.9"/>
<rect x="559.88" y="476.43" width="9.3" height="181.07" fill="#d9d9d9" stroke="#6a6a6a" stroke-width="0.9"/>
<line x1="576.18" y1="500.14" x2="576.18" y2="485.53" stroke="#7a7a7a" stroke-width="0.9"/>
<line x1="574.58" y1="485.53" x2="577.78" y2="485.53" stroke="#7a7a7a" stroke-width="0.9"/>
<rect x="571.53" y="500.29" width="9.3" height="157.21" fill="#a6a6a6" stroke="#4a4a4a" stroke-width="0.9"/>
<line x1="587.83" y1="535.09" x2="587.83" y2="525.84" stroke="#7a7a7a" stroke-width="0.9"/>
<line x1="586.23" y1="525.84" x2="589.43" y2="525.84" stroke="#7a7a7a" stroke-width="0.9"/>
<rect x="583.18" y="535.24" width="9.3" height="122.26" fill="#5d5d5d" stroke="#3a3a3a" stroke-width="0.9"/>
<line x1="599.48" y1="538.78" x2="599.48" y2="523.62" stroke="#7a7a7a" stroke-width="0.9"/>
<line x1="597.88" y1="523.62" x2="601.08" y2="523.62" stroke="#7a7a7a" stroke-width="0.9"/>
<rect x="594.83" y="538.93" width="9.3" height="118.57" fill="#141414" stroke="#111111" stroke-width="0.9"/>
<line x1="611.13" y1="548.77" x2="611.13" y2="540.26" stroke="#7a7a7a" stroke-width="0.9"/>
<line x1="609.53" y1="540.26" x2="612.73" y2="540.26" stroke="#7a7a7a" stroke-width="0.9"/>
<rect x="606.48" y="548.92" width="9.3" height="108.58" fill="url(#pdots)" stroke="#6a6a6a" stroke-width="0.9"/>
<line x1="622.78" y1="565.97" x2="622.78" y2="562.27" stroke="#7a7a7a" stroke-width="0.9"/>
<line x1="621.18" y1="562.27" x2="624.38" y2="562.27" stroke="#7a7a7a" stroke-width="0.9"/>
<rect x="618.13" y="566.12" width="9.3" height="91.38" fill="url(#pdiag)" stroke="#3a3a3a" stroke-width="0.9"/>
<line x1="634.43" y1="529.17" x2="634.43" y2="522.14" stroke="#7a7a7a" stroke-width="0.9"/>
<line x1="632.83" y1="522.14" x2="636.03" y2="522.14" stroke="#7a7a7a" stroke-width="0.9"/>
<rect x="629.78" y="529.32" width="9.3" height="128.18" fill="url(#phor)" stroke="#3a3a3a" stroke-width="0.9"/>
<line x1="646.08" y1="531.02" x2="646.08" y2="526.39" stroke="#7a7a7a" stroke-width="0.9"/>
<line x1="644.48" y1="526.39" x2="647.68" y2="526.39" stroke="#7a7a7a" stroke-width="0.9"/>
<rect x="641.43" y="531.17" width="9.3" height="126.33" fill="url(#pdark)" stroke="#2a2a2a" stroke-width="0.9"/>
<line x1="48.4" y1="435.6" x2="48.4" y2="657.5" stroke="#8a8a8a" stroke-width="1"/>
<line x1="47.9" y1="657.5" x2="660.5" y2="657.5" stroke="#8a8a8a" stroke-width="1"/>
<line x1="45.4" y1="657.5" x2="48.4" y2="657.5" stroke="#8a8a8a" stroke-width="1"/>
<text x="39.6" y="660.3" text-anchor="end" font-size="8.25" fill="#1a1a1a">0</text>
<line x1="45.4" y1="620.52" x2="48.4" y2="620.52" stroke="#8a8a8a" stroke-width="1"/>
<text x="39.6" y="623.32" text-anchor="end" font-size="8.25" fill="#1a1a1a">20</text>
<line x1="45.4" y1="583.53" x2="48.4" y2="583.53" stroke="#8a8a8a" stroke-width="1"/>
<text x="39.6" y="586.33" text-anchor="end" font-size="8.25" fill="#1a1a1a">40</text>
<line x1="45.4" y1="546.55" x2="48.4" y2="546.55" stroke="#8a8a8a" stroke-width="1"/>
<text x="39.6" y="549.35" text-anchor="end" font-size="8.25" fill="#1a1a1a">60</text>
<line x1="45.4" y1="509.57" x2="48.4" y2="509.57" stroke="#8a8a8a" stroke-width="1"/>
<text x="39.6" y="512.37" text-anchor="end" font-size="8.25" fill="#1a1a1a">80</text>
<line x1="45.4" y1="472.58" x2="48.4" y2="472.58" stroke="#8a8a8a" stroke-width="1"/>
<text x="39.6" y="475.38" text-anchor="end" font-size="8.25" fill="#1a1a1a">100</text>
<line x1="45.4" y1="435.6" x2="48.4" y2="435.6" stroke="#8a8a8a" stroke-width="1"/>
<text x="39.6" y="438.4" text-anchor="end" font-size="8.25" fill="#1a1a1a">120</text>
<path d="M184.36,31.1 L183.76,36.1 M186.06,31.1 L185.46,36.1 M183.06,32.8 L186.66,32.8 M183.06,34.6 L186.66,34.6" stroke="#222" stroke-width="0.9" fill="none"/>
<path d="M196.08,174.5 L195.48,179.5 M197.78,174.5 L197.18,179.5 M194.78,176.2 L198.38,176.2 M194.78,178 L198.38,178" stroke="#222" stroke-width="0.9" fill="none"/>
<path d="M194.4,136.4 L194.4,133.9 Q194.4,132.6 195.7,132.6 L282.5,132.6 Q283.8,132.6 283.8,133.9 L283.8,136.4" fill="none" stroke="#666" stroke-width="1.05"/><path d="M239.5,132.6 L239.5,128.9" fill="none" stroke="#555" stroke-width="1.1"/>
<path d="M239.2,121.4 L239.2,126 M237.21,122.55 L241.19,124.85 M237.21,124.85 L241.19,122.55" stroke="#1e1e1e" stroke-width="1.05" fill="none"/><circle cx="239.2" cy="123.7" r="0.9" fill="#111"/>
<path d="M215.4,244.3 L215.4,241.8 Q215.4,240.5 216.7,240.5 L283,240.5 Q284.3,240.5 284.3,241.8 L284.3,244.3" fill="none" stroke="#666" stroke-width="1.05"/><path d="M249.5,240.5 L249.5,236.8" fill="none" stroke="#555" stroke-width="1.1"/>
<path d="M249.2,229.2 L248.6,234.2 M250.9,229.2 L250.3,234.2 M247.9,230.9 L251.5,230.9 M247.9,232.7 L251.5,232.7" stroke="#222" stroke-width="0.9" fill="none"/>
<path d="M306.92,63.5 L306.32,68.5 M308.62,63.5 L308.02,68.5 M305.62,65.2 L309.22,65.2 M305.62,67 L309.22,67" stroke="#222" stroke-width="0.9" fill="none"/>
<path d="M318.65,110 L318.05,115 M320.35,110 L319.75,115 M317.35,111.7 L320.95,111.7 M317.35,113.5 L320.95,113.5" stroke="#222" stroke-width="0.9" fill="none"/>
<path d="M319.15,117.1 L319.15,121.7 M317.15,118.25 L321.14,120.55 M317.15,120.55 L321.14,118.25" stroke="#1e1e1e" stroke-width="1.05" fill="none"/><circle cx="319.15" cy="119.4" r="0.9" fill="#111"/>
<path d="M338.7,244.1 L338.7,241.6 Q338.7,240.3 340,240.3 L406.1,240.3 Q407.4,240.3 407.4,241.6 L407.4,244.1" fill="none" stroke="#666" stroke-width="1.05"/><path d="M373.5,240.3 L373.5,236.6" fill="none" stroke="#555" stroke-width="1.1"/>
<path d="M368.5,227.5 L368.5,232.1 M366.51,228.65 L370.49,230.95 M366.51,230.95 L370.49,228.65" stroke="#1e1e1e" stroke-width="1.05" fill="none"/><circle cx="368.5" cy="229.8" r="0.9" fill="#111"/>
<path d="M376.1,227.9 L375.5,232.9 M377.8,227.9 L377.2,232.9 M374.8,229.6 L378.4,229.6 M374.8,231.4 L378.4,231.4" stroke="#222" stroke-width="0.9" fill="none"/>
<path d="M441.21,112.5 L440.61,117.5 M442.91,112.5 L442.31,117.5 M439.91,114.2 L443.51,114.2 M439.91,116 L443.51,116" stroke="#222" stroke-width="0.9" fill="none"/>
<path d="M441.71,120 L441.71,124.6 M439.71,121.15 L443.7,123.45 M439.71,123.45 L443.7,121.15" stroke="#1e1e1e" stroke-width="1.05" fill="none"/><circle cx="441.71" cy="122.3" r="0.9" fill="#111"/>
<path d="M461.9,161.2 L461.9,158.7 Q461.9,157.4 463.2,157.4 L533.3,157.4 Q534.6,157.4 534.6,158.7 L534.6,161.2" fill="none" stroke="#666" stroke-width="1.05"/><path d="M498.5,157.4 L498.5,153.7" fill="none" stroke="#555" stroke-width="1.1"/>
<path d="M494,145.2 L494,149.8 M492.01,146.35 L495.99,148.65 M492.01,148.65 L495.99,146.35" stroke="#1e1e1e" stroke-width="1.05" fill="none"/><circle cx="494" cy="147.5" r="0.9" fill="#111"/>
<path d="M502,145.3 L501.4,150.3 M503.7,145.3 L503.1,150.3 M500.7,147 L504.3,147 M500.7,148.8 L504.3,148.8" stroke="#222" stroke-width="0.9" fill="none"/>
<path d="M583.4,114.2 L583.4,111.7 Q583.4,110.4 584.7,110.4 L624.4,110.4 Q625.7,110.4 625.7,111.7 L625.7,114.2" fill="none" stroke="#666" stroke-width="1.05"/><path d="M604.5,110.4 L604.5,106.7" fill="none" stroke="#555" stroke-width="1.1"/>
<path d="M600.3,96.6 L600.3,101.2 M598.31,97.75 L602.29,100.05 M598.31,100.05 L602.29,97.75" stroke="#1e1e1e" stroke-width="1.05" fill="none"/><circle cx="600.3" cy="98.9" r="0.9" fill="#111"/>
<path d="M607.8,96.8 L607.2,101.8 M609.5,96.8 L608.9,101.8 M606.5,98.5 L610.1,98.5 M606.5,100.3 L610.1,100.3" stroke="#222" stroke-width="0.9" fill="none"/>
<path d="M645,97.5 L644.4,102.5 M646.7,97.5 L646.1,102.5 M643.7,99.2 L647.3,99.2 M643.7,101 L647.3,101" stroke="#222" stroke-width="0.9" fill="none"/>
<path d="M178.5,576.9 L178.5,574.4 Q178.5,573.1 179.8,573.1 L201.2,573.1 Q202.5,573.1 202.5,574.4 L202.5,576.9" fill="none" stroke="#666" stroke-width="1.05"/><path d="M190.5,573.1 L190.5,569.4" fill="none" stroke="#555" stroke-width="1.1"/>
<path d="M190.1,560.5 L189.5,565.5 M191.8,560.5 L191.2,565.5 M188.8,562.2 L192.4,562.2 M188.8,564 L192.4,564" stroke="#222" stroke-width="0.9" fill="none"/>
<path d="M180.4,525.9 L180.4,523.4 Q180.4,522.1 181.7,522.1 L284.8,522.1 Q286.1,522.1 286.1,523.4 L286.1,525.9" fill="none" stroke="#666" stroke-width="1.05"/><path d="M233.5,522.1 L233.5,518.4" fill="none" stroke="#555" stroke-width="1.1"/>
<path d="M233.6,510.7 L233.6,515.3 M231.61,511.85 L235.59,514.15 M231.61,514.15 L235.59,511.85" stroke="#1e1e1e" stroke-width="1.05" fill="none"/><circle cx="233.6" cy="513" r="0.9" fill="#111"/>
<path d="M215.6,647 L215.6,644.5 Q215.6,643.2 216.9,643.2 L282.2,643.2 Q283.5,643.2 283.5,644.5 L283.5,647" fill="none" stroke="#666" stroke-width="1.05"/><path d="M249.5,643.2 L249.5,639.5" fill="none" stroke="#555" stroke-width="1.1"/>
<path d="M249.4,629.2 L248.8,634.2 M251.1,629.2 L250.5,634.2 M248.1,630.9 L251.7,630.9 M248.1,632.7 L251.7,632.7" stroke="#222" stroke-width="0.9" fill="none"/>
<path d="M301.9,499.5 L301.9,497 Q301.9,495.7 303.2,495.7 L406.6,495.7 Q407.9,495.7 407.9,497 L407.9,499.5" fill="none" stroke="#666" stroke-width="1.05"/><path d="M355.5,495.7 L355.5,492" fill="none" stroke="#555" stroke-width="1.1"/>
<path d="M355.3,483.1 L355.3,487.7 M353.31,484.25 L357.29,486.55 M353.31,486.55 L357.29,484.25" stroke="#1e1e1e" stroke-width="1.05" fill="none"/><circle cx="355.3" cy="485.4" r="0.9" fill="#111"/>
<path d="M319.19,613.8 L318.59,618.8 M320.89,613.8 L320.29,618.8 M317.89,615.5 L321.49,615.5 M317.89,617.3 L321.49,617.3" stroke="#222" stroke-width="0.9" fill="none"/>
<path d="M338.6,647.6 L338.6,645.1 Q338.6,643.8 339.9,643.8 L405.4,643.8 Q406.7,643.8 406.7,645.1 L406.7,647.6" fill="none" stroke="#666" stroke-width="1.05"/><path d="M372.5,643.8 L372.5,640.1" fill="none" stroke="#555" stroke-width="1.1"/>
<path d="M372,629.7 L371.4,634.7 M373.7,629.7 L373.1,634.7 M370.7,631.4 L374.3,631.4 M370.7,633.2 L374.3,633.2" stroke="#222" stroke-width="0.9" fill="none"/>
<path d="M429.96,451.7 L429.36,456.7 M431.66,451.7 L431.06,456.7 M428.66,453.4 L432.26,453.4 M428.66,455.2 L432.26,455.2" stroke="#222" stroke-width="0.9" fill="none"/>
<path d="M441.61,559.8 L441.01,564.8 M443.31,559.8 L442.71,564.8 M440.31,561.5 L443.91,561.5 M440.31,563.3 L443.91,563.3" stroke="#222" stroke-width="0.9" fill="none"/>
<path d="M438.6,506.8 L438.6,504.3 Q438.6,503 439.9,503 L531.6,503 Q532.9,503 532.9,504.3 L532.9,506.8" fill="none" stroke="#666" stroke-width="1.05"/><path d="M486.5,503 L486.5,499.3" fill="none" stroke="#555" stroke-width="1.1"/>
<path d="M486.1,490.4 L486.1,495 M484.11,491.55 L488.09,493.85 M484.11,493.85 L488.09,491.55" stroke="#1e1e1e" stroke-width="1.05" fill="none"/><circle cx="486.1" cy="492.7" r="0.9" fill="#111"/>
<path d="M463.3,647.5 L463.3,645 Q463.3,643.7 464.6,643.7 L531.3,643.7 Q532.6,643.7 532.6,645 L532.6,647.5" fill="none" stroke="#666" stroke-width="1.05"/><path d="M497.5,643.7 L497.5,640" fill="none" stroke="#555" stroke-width="1.1"/>
<path d="M497.4,629.9 L496.8,634.9 M499.1,629.9 L498.5,634.9 M496.1,631.6 L499.7,631.6 M496.1,633.4 L499.7,633.4" stroke="#222" stroke-width="0.9" fill="none"/>
<path d="M548.4,454.8 L548.4,452.3 Q548.4,451 549.7,451 L571.2,451 Q572.5,451 572.5,452.3 L572.5,454.8" fill="none" stroke="#666" stroke-width="1.05"/><path d="M560.5,451 L560.5,447.3" fill="none" stroke="#555" stroke-width="1.1"/>
<path d="M559.9,438.3 L559.3,443.3 M561.6,438.3 L561,443.3 M558.6,440 L562.2,440 M558.6,441.8 L562.2,441.8" stroke="#222" stroke-width="0.9" fill="none"/>
<path d="M573.1,479.6 L573.1,477.1 Q573.1,475.8 574.4,475.8 L650.7,475.8 Q652,475.8 652,477.1 L652,479.6" fill="none" stroke="#666" stroke-width="1.05"/><path d="M613.5,475.8 L613.5,472.1" fill="none" stroke="#555" stroke-width="1.1"/>
<path d="M613.3,463.9 L613.3,468.5 M611.31,465.05 L615.29,467.35 M611.31,467.35 L615.29,465.05" stroke="#1e1e1e" stroke-width="1.05" fill="none"/><circle cx="613.3" cy="466.2" r="0.9" fill="#111"/>
<path d="M584.2,517.9 L584.2,515.4 Q584.2,514.1 585.5,514.1 L650.7,514.1 Q652,514.1 652,515.4 L652,517.9" fill="none" stroke="#666" stroke-width="1.05"/><path d="M618.5,514.1 L618.5,510.4" fill="none" stroke="#555" stroke-width="1.1"/>
<path d="M617.5,500.8 L616.9,505.8 M619.2,500.8 L618.6,505.8 M616.2,502.5 L619.8,502.5 M616.2,504.3 L619.8,504.3" stroke="#222" stroke-width="0.9" fill="none"/>
<text x="5.4" y="12" font-size="15" fill="#111">a</text>
<text x="2.9" y="414" font-size="16.3" fill="#111">b</text>
<text x="216.9" y="8.4" font-size="11.1" fill="#1a1a1a">Cell viability of HCEpiC cells after 24-h exposure</text>
<text x="217.9" y="421.8" font-size="11.1" fill="#1a1a1a">Cell viability of HCEpiC cells after 72-h exposure</text>
<text transform="translate(14.0,149) rotate(-90)" text-anchor="middle" font-size="9.45" fill="#1a1a1a">Cell viability (%)</text>
<text transform="translate(14.0,548.2) rotate(-90)" text-anchor="middle" font-size="9.45" fill="#1a1a1a">Cell viability (%)</text>
<text x="99.08" y="276.5" font-size="8.6" textLength="19.8" lengthAdjust="spacingAndGlyphs" fill="#1a1a1a">CT (-)</text>
<text x="223.24" y="276.5" font-size="8.6" textLength="16.6" lengthAdjust="spacingAndGlyphs" fill="#1a1a1a">12.5</text>
<text x="345.8" y="276.5" font-size="8.6" textLength="16.6" lengthAdjust="spacingAndGlyphs" fill="#1a1a1a">6.25</text>
<text x="468.36" y="276.5" font-size="8.6" textLength="16.6" lengthAdjust="spacingAndGlyphs" fill="#1a1a1a">3.13</text>
<text x="590.92" y="276.5" font-size="8.6" textLength="16.6" lengthAdjust="spacingAndGlyphs" fill="#1a1a1a">0.78</text>
<text x="99.71" y="671.7" font-size="8.6" textLength="19.8" lengthAdjust="spacingAndGlyphs" fill="#1a1a1a">CT (-)</text>
<text x="223.73" y="671.7" font-size="8.6" textLength="16.6" lengthAdjust="spacingAndGlyphs" fill="#1a1a1a">12.5</text>
<text x="346.15" y="671.7" font-size="8.6" textLength="16.6" lengthAdjust="spacingAndGlyphs" fill="#1a1a1a">6.25</text>
<text x="468.57" y="671.7" font-size="8.6" textLength="16.6" lengthAdjust="spacingAndGlyphs" fill="#1a1a1a">3.13</text>
<text x="590.99" y="671.7" font-size="8.6" textLength="16.6" lengthAdjust="spacingAndGlyphs" fill="#1a1a1a">0.78</text>
<text x="289.1" y="300.2" font-size="9.6" textLength="84.7" lengthAdjust="spacingAndGlyphs" fill="#1a1a1a">Dilutions (% vol/vol)</text>
<text x="290.2" y="687" font-size="9.6" textLength="84.7" lengthAdjust="spacingAndGlyphs" fill="#1a1a1a">Dilutions (% vol/vol)</text>
<rect x="112.8" y="322.1" width="5.1" height="4.4" fill="#ffffff" stroke="#4a4a4a" stroke-width="0.9"/>
<text x="120.3" y="327" font-size="8.3" textLength="108.9" lengthAdjust="spacingAndGlyphs" fill="#141414">EDF 1. Ketotifen 0.025% (SiD)</text>
<rect x="300.5" y="322.1" width="5.1" height="4.4" fill="#d9d9d9" stroke="#6a6a6a" stroke-width="0.9"/>
<text x="307.7" y="327" font-size="8.3" textLength="108" lengthAdjust="spacingAndGlyphs" fill="#141414">EDF 2. Azelastine 0.05% (SiD)</text>
<rect x="487.2" y="322.1" width="5.1" height="4.4" fill="#a6a6a6" stroke="#4a4a4a" stroke-width="0.9"/>
<text x="495.6" y="327" font-size="8.3" textLength="77.4" lengthAdjust="spacingAndGlyphs" fill="#141414">EDF 3. Bilastine 0.6%</text>
<rect x="112.8" y="338.9" width="5.1" height="4.4" fill="#5d5d5d" stroke="#3a3a3a" stroke-width="0.9"/>
<text x="120.3" y="343.8" font-size="8.3" textLength="100.1" lengthAdjust="spacingAndGlyphs" fill="#141414">EDF 4. Olopatadine 0.222%</text>
<rect x="300.5" y="338.9" width="5.1" height="4.4" fill="#141414" stroke="#111111" stroke-width="0.9"/>
<text x="307.7" y="343.8" font-size="8.3" textLength="87.8" lengthAdjust="spacingAndGlyphs" fill="#141414">EDF 5. Azelastine 0.05%</text>
<rect x="487.2" y="338.9" width="5.1" height="4.4" fill="url(#pdots)" stroke="#6a6a6a" stroke-width="0.9"/>
<text x="495.6" y="343.8" font-size="8.3" textLength="100.4" lengthAdjust="spacingAndGlyphs" fill="#141414">EDF 6. Olopatadine 0.776%</text>
<rect x="112.8" y="355.4" width="5.1" height="4.4" fill="url(#pdiag)" stroke="#3a3a3a" stroke-width="0.9"/>
<text x="120.3" y="360.3" font-size="8.3" textLength="102.8" lengthAdjust="spacingAndGlyphs" fill="#141414">EDF 7. Levocabastine 0.05%</text>
<rect x="300.5" y="355.4" width="5.1" height="4.4" fill="url(#phor)" stroke="#3a3a3a" stroke-width="0.9"/>
<text x="307.7" y="360.3" font-size="8.3" textLength="91.9" lengthAdjust="spacingAndGlyphs" fill="#141414">EDF 8. Olopatadine 0.1%</text>
<rect x="487.2" y="355.4" width="5.1" height="4.4" fill="url(#pdark)" stroke="#2a2a2a" stroke-width="0.9"/>
<text x="495.6" y="360.3" font-size="8.3" textLength="89.3" lengthAdjust="spacingAndGlyphs" fill="#141414">EDF 9. Ketotifen 0.025%</text>
<rect x="113.3" y="716.8" width="5.1" height="4.4" fill="#ffffff" stroke="#4a4a4a" stroke-width="0.9"/>
<text x="120.8" y="721.7" font-size="8.3" textLength="108.9" lengthAdjust="spacingAndGlyphs" fill="#141414">EDF 1. Ketotifen 0.025% (SiD)</text>
<rect x="301" y="716.8" width="5.1" height="4.4" fill="#d9d9d9" stroke="#6a6a6a" stroke-width="0.9"/>
<text x="308.2" y="721.7" font-size="8.3" textLength="108" lengthAdjust="spacingAndGlyphs" fill="#141414">EDF 2. Azelastine 0.05% (SiD)</text>
<rect x="487.7" y="716.8" width="5.1" height="4.4" fill="#a6a6a6" stroke="#4a4a4a" stroke-width="0.9"/>
<text x="496.1" y="721.7" font-size="8.3" textLength="77.4" lengthAdjust="spacingAndGlyphs" fill="#141414">EDF 3. Bilastine 0.6%</text>
<rect x="113.3" y="732.8" width="5.1" height="4.4" fill="#5d5d5d" stroke="#3a3a3a" stroke-width="0.9"/>
<text x="120.8" y="737.7" font-size="8.3" textLength="100.1" lengthAdjust="spacingAndGlyphs" fill="#141414">EDF 4. Olopatadine 0.222%</text>
<rect x="301" y="732.8" width="5.1" height="4.4" fill="#141414" stroke="#111111" stroke-width="0.9"/>
<text x="308.2" y="737.7" font-size="8.3" textLength="87.8" lengthAdjust="spacingAndGlyphs" fill="#141414">EDF 5. Azelastine 0.05%</text>
<rect x="487.7" y="732.8" width="5.1" height="4.4" fill="url(#pdots)" stroke="#6a6a6a" stroke-width="0.9"/>
<text x="496.1" y="737.7" font-size="8.3" textLength="100.4" lengthAdjust="spacingAndGlyphs" fill="#141414">EDF 6. Olopatadine 0.776%</text>
<rect x="113.3" y="749.1" width="5.1" height="4.4" fill="url(#pdiag)" stroke="#3a3a3a" stroke-width="0.9"/>
<text x="120.8" y="754" font-size="8.3" textLength="102.8" lengthAdjust="spacingAndGlyphs" fill="#141414">EDF 7. Levocabastine 0.05%</text>
<rect x="301" y="749.1" width="5.1" height="4.4" fill="url(#phor)" stroke="#3a3a3a" stroke-width="0.9"/>
<text x="308.2" y="754" font-size="8.3" textLength="91.9" lengthAdjust="spacingAndGlyphs" fill="#141414">EDF 8. Olopatadine 0.1%</text>
<rect x="487.7" y="749.1" width="5.1" height="4.4" fill="url(#pdark)" stroke="#2a2a2a" stroke-width="0.9"/>
<text x="496.1" y="754" font-size="8.3" textLength="89.3" lengthAdjust="spacingAndGlyphs" fill="#141414">EDF 9. Ketotifen 0.025%</text>
<line x1="289.7" y1="756.3" x2="309.5" y2="756.3" stroke="#777" stroke-width="0.9" stroke-dasharray="1.2,0.8"/>
<line x1="478.5" y1="756.3" x2="499.8" y2="756.3" stroke="#555" stroke-width="0.9" stroke-dasharray="1.2,0.8"/>
</svg>
</body></html>
